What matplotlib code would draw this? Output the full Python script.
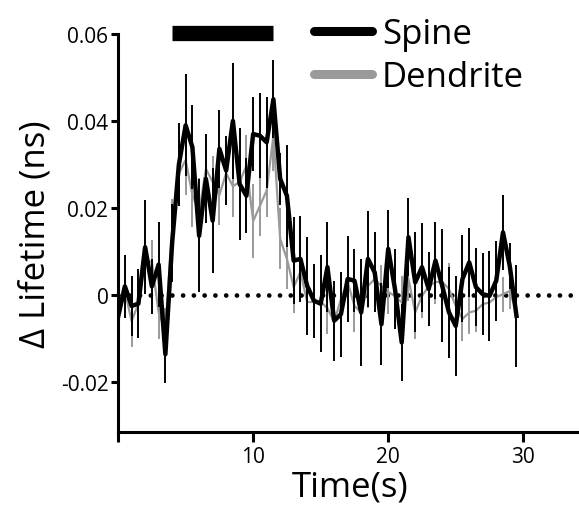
import numpy as np
import matplotlib
matplotlib.use("Agg")
import matplotlib.pyplot as plt

# time points, 0.5 s apart
time_s = np.arange(0, 30, 0.5)

spine = [-0.005, 0.002, -0.0025, -0.002, 0.011, 0.002, 0.007, -0.0136, 0.012, 0.030,
         0.039, 0.034, 0.0136, 0.0267, 0.0171, 0.0336, 0.0286, 0.040, 0.0255, 0.0228,
         0.037, 0.0366, 0.0351, 0.045, 0.0267, 0.0228, 0.0079, 0.0083, 0.0021, -0.0013,
         -0.002, 0.0064, -0.0059, -0.0044, 0.0037, 0.0033, -0.004, 0.0083, 0.0052, -0.0067,
         0.0106, 0.0014, -0.0109, 0.0133, 0.0029, 0.0064, 0.0014, 0.0079, 0.0021, -0.004,
         -0.0071, 0.0037, 0.0075, 0.0018, 0.0002, -0.0002, 0.0033, 0.0144, 0.0067, -0.0048]

spine_err = [0.006, 0.0073, 0.0069, 0.0079, 0.0108, 0.0063, 0.0098, 0.0066, 0.009, 0.0096,
             0.0117, 0.0096, 0.013, 0.0102, 0.012, 0.009, 0.0079, 0.0134, 0.0128, 0.0086,
             0.0086, 0.0098, 0.0104, 0.009, 0.006, 0.0117, 0.01, 0.0098, 0.0113, 0.0085,
             0.0111, 0.0103, 0.0092, 0.0098, 0.0098, 0.0073, 0.0123, 0.011, 0.0092, 0.0094,
             0.009, 0.0092, 0.0088, 0.009, 0.0115, 0.0102, 0.0086, 0.0088, 0.013, 0.0104,
             0.0115, 0.01, 0.008, 0.009, 0.0094, 0.0104, 0.0092, 0.0086, 0.0052, 0.0117]

dendrite = [-0.002, 0.001, -0.006, -0.002, 0.008, 0.0076, -0.004, -0.008, 0.015, 0.028,
            0.031, 0.023, 0.019, 0.029, 0.026, 0.023, 0.028, 0.025, 0.026, 0.0297,
            0.017, 0.0205, 0.024, 0.0366, 0.0129, 0.0083, 0.0018, 0.0053, -0.0016, -0.0016,
            -0.0016, -0.003, -0.0062, -0.0009, 0.003, -0.0025, -0.004, 0.0021, 0.0037, 0.002,
            0.0007, -0.0002, -0.0017, 0.0037, -0.004, -0.0002, 0.002, 0.003, 0.003, 0.0014,
            -0.0025, -0.0055, -0.004, -0.0036, -0.0021, -0.0017, -0.0005, 0.0002, 0.0009, -0.004]

dendrite_err = [0.004, 0.005, 0.006, 0.005, 0.006, 0.005, 0.006, 0.005, 0.007, 0.007,
                0.008, 0.0073, 0.008, 0.007, 0.006, 0.007, 0.006, 0.007, 0.006, 0.007,
                0.0085, 0.007, 0.006, 0.008, 0.007, 0.007, 0.006, 0.006, 0.006, 0.006,
                0.006, 0.006, 0.006, 0.006, 0.005, 0.006, 0.006, 0.005, 0.006, 0.005,
                0.005, 0.006, 0.006, 0.005, 0.006, 0.005, 0.005, 0.005, 0.005, 0.006,
                0.005, 0.005, 0.005, 0.005, 0.005, 0.005, 0.004, 0.004, 0.004, 0.004]

# stimulation window (black bar on top)
stim_start, stim_end = 4.0, 11.5

yticks = [-0.02, 0, 0.02, 0.04, 0.06]
ytick_labels = ["-0.02", "0", "0.02", "0.04", "0.06"]
xticks = [0, 10, 20, 30]
xtick_labels = ["", "10", "20", "30"]

plt.rcParams['font.family'] = ['Open Sans', 'DejaVu Sans']

fig = plt.figure(figsize=(5.79, 5.06), dpi=100)
ax = fig.add_axes([0.204, 0.144, 0.80, 0.787])

gray = "#9a9a9a"

ax.errorbar(time_s, dendrite, yerr=dendrite_err, color=gray, lw=1.6,
            elinewidth=1.4, capsize=0, zorder=2)
ax.errorbar(time_s, spine, yerr=spine_err, color="black", lw=3.2,
            elinewidth=1.4, capsize=0, zorder=3)

# dotted zero line
ax.axhline(0, color="black", lw=3.4, linestyle=(0, (0.01, 2.27)),
           dash_capstyle="round", zorder=1, clip_on=False)

# stimulus bar
ax.plot([stim_start, stim_end], [0.0603, 0.0603], color="black", lw=11,
        solid_capstyle="butt", clip_on=False)

ax.set_xlim(0, 34.3)
ax.set_ylim(-0.0315, 0.06)

ax.spines["top"].set_visible(False)
ax.spines["right"].set_visible(False)
ax.spines["left"].set_linewidth(2.2)
ax.spines["bottom"].set_linewidth(2.2)

ax.set_yticks(yticks)
ax.set_yticklabels(ytick_labels, fontsize=15)
ax.set_xticks(xticks)
ax.set_xticklabels(xtick_labels, fontsize=15)
ax.tick_params(axis="y", length=5, width=2.2, pad=2)
ax.tick_params(axis="x", length=7, width=2.2, pad=3)

ax.set_xlabel("Time(s)", fontsize=25, labelpad=2)
ax.set_ylabel("Δ Lifetime (ns)", fontsize=25, labelpad=6)

h1, = ax.plot([], [], color="black", lw=6.5, solid_capstyle="round")
h2, = ax.plot([], [], color=gray, lw=6.5, solid_capstyle="round")
fig.legend([h1, h2], ["Spine", "Dendrite"], loc="upper left",
           bbox_to_anchor=(0.489, 1.026), frameon=False, fontsize=25,
           handlelength=1.65, handletextpad=0.3, labelspacing=0.25)

fig.savefig("out.png", dpi=100)
